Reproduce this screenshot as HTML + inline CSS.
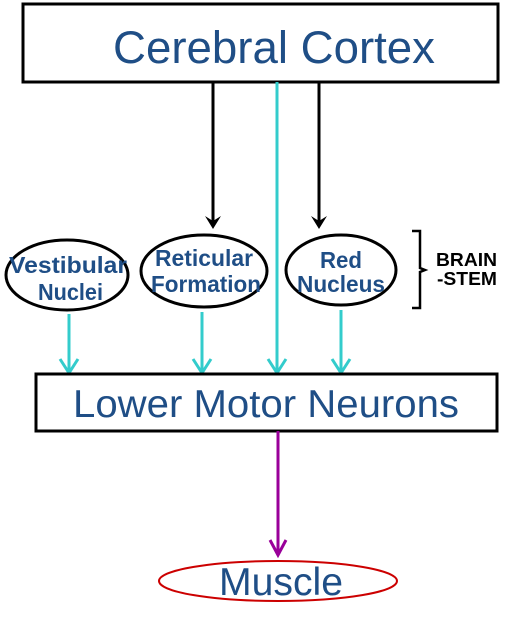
<!DOCTYPE html>
<html><head><style>body{margin:0;background:#fff}svg{display:block}</style></head><body>
<svg width="512" height="630" viewBox="0 0 512 630" xmlns="http://www.w3.org/2000/svg" font-family="Liberation Sans, sans-serif">
<rect x="23" y="4" width="475" height="78" fill="#fff" stroke="#000" stroke-width="3"/>
<text x="113" y="63" font-size="45" fill="#1f4e86" textLength="322" lengthAdjust="spacingAndGlyphs">Cerebral Cortex</text>
<g stroke="#000" stroke-width="3" fill="none">
<line x1="213" y1="82" x2="213" y2="222"/>
<line x1="319" y1="82" x2="319" y2="222"/>
</g>
<polygon points="205,216 213,229 221,216 213,221" fill="#000"/>
<polygon points="311,216 319,229 327,216 319,221" fill="#000"/>
<g stroke="#33cccc" stroke-width="3" fill="none">
<line x1="277" y1="82" x2="277" y2="373"/><polyline points="268,359 277,373 286,359"/>
<line x1="69" y1="314" x2="69" y2="373"/><polyline points="60,359 69,373 78,359"/>
<line x1="202" y1="312" x2="202" y2="373"/><polyline points="193,359 202,373 211,359"/>
<line x1="341" y1="310" x2="341" y2="373"/><polyline points="332,359 341,373 350,359"/>
</g>
<g stroke="#000" stroke-width="3" fill="#fff">
<ellipse cx="67" cy="275" rx="61" ry="35"/>
<ellipse cx="204" cy="271" rx="63" ry="36"/>
<ellipse cx="341" cy="270" rx="55" ry="35"/>
</g>
<g font-size="23" font-weight="bold" fill="#1f4e86">
<text x="9" y="273" textLength="118" lengthAdjust="spacingAndGlyphs">Vestibular</text><text x="38" y="300" textLength="65" lengthAdjust="spacingAndGlyphs">Nuclei</text>
<text x="155" y="266" textLength="98" lengthAdjust="spacingAndGlyphs">Reticular</text><text x="151" y="292" textLength="110" lengthAdjust="spacingAndGlyphs">Formation</text>
<text x="320" y="268" textLength="42" lengthAdjust="spacingAndGlyphs">Red</text><text x="297" y="292" textLength="88" lengthAdjust="spacingAndGlyphs">Nucleus</text>
</g>
<path d="M412,231 H420 V268 L425,270 L420,272 V308 H412" fill="none" stroke="#000" stroke-width="2.5"/>
<g font-size="18" font-weight="bold" fill="#000"><text x="436" y="266" textLength="61" lengthAdjust="spacingAndGlyphs">BRAIN</text><text x="437" y="285" textLength="60" lengthAdjust="spacingAndGlyphs">-STEM</text></g>
<rect x="36" y="374" width="461" height="57" fill="#fff" stroke="#000" stroke-width="3"/>
<text x="73" y="417" font-size="39" fill="#1f4e86" textLength="386" lengthAdjust="spacingAndGlyphs">Lower Motor Neurons</text>
<g stroke="#990099" stroke-width="3" fill="none">
<line x1="278" y1="431" x2="278" y2="555"/><polyline points="270,540 278,555 286,540"/>
</g>
<ellipse cx="278" cy="581" rx="119" ry="20" fill="none" stroke="#cc0000" stroke-width="2"/>
<text x="219" y="595" font-size="39" fill="#1f4e86" textLength="124" lengthAdjust="spacingAndGlyphs">Muscle</text>
</svg>
</body></html>
